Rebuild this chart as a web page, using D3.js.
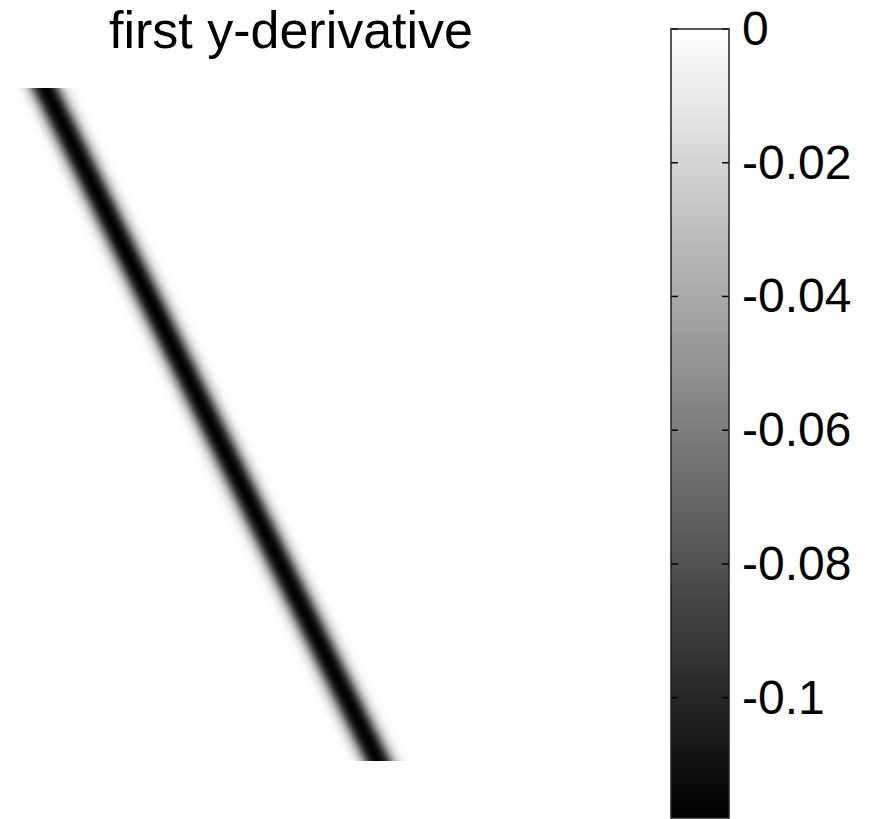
<!DOCTYPE html>
<html>
<head>
<meta charset="utf-8">
<script src="https://cdn.jsdelivr.net/npm/d3@7"></script>
<style>
  body { margin: 0; background: #fff; }
  text { font-family: "Liberation Sans", Arial, sans-serif; fill: #000; }
</style>
</head>
<body>
<div id="chart"></div>
<script>
// image size in source pixels (rows x cols)
var nRows = 673, nCols = 580;
// centre of the dark stripe, read at the top and bottom rows
var centreRows = [0, 673];
var centreCols = [45, 378];
// horizontal cross-section of the stripe (offset from centre -> value)
var profileOffsets = [-34, -28, -24, -20, -16, -12, -8, -4, 0, 4, 8, 12, 16, 20, 24, 28, 34];
var profileValues = [0, -0.002, -0.007, -0.018, -0.038, -0.068, -0.097, -0.113, -0.118, -0.113, -0.097, -0.068, -0.038, -0.018, -0.007, -0.002, 0];
// colour limits and colorbar ticks
var cMin = -0.118, cMax = 0;
var cbTicks = [0, -0.02, -0.04, -0.06, -0.08, -0.1];

var W = 870, H = 819;
var svg = d3.select("#chart").append("svg").attr("width", W).attr("height", H);

// image axes
var img = { x: 0, y: 88, w: 580, h: 673 };
var x = d3.scaleLinear().domain([0, nCols]).range([img.x, img.x + img.w]);
var y = d3.scaleLinear().domain([0, nRows]).range([img.y, img.y + img.h]);

var centre = d3.scaleLinear().domain(centreRows).range(centreCols);
var profile = d3.scaleLinear().domain(profileOffsets).range(profileValues).clamp(true);
var gray = d3.scaleLinear().domain([cMin, cMax]).range(["#000", "#fff"]).clamp(true);

// paint the image on a canvas, one pixel per cell
var canvas = document.createElement("canvas");
canvas.width = nCols; canvas.height = nRows;
var ctx = canvas.getContext("2d");
var data = ctx.createImageData(nCols, nRows);
for (var r = 0; r < nRows; r++) {
  var c0 = centre(r + 0.5);
  for (var c = 0; c < nCols; c++) {
    var col = d3.rgb(gray(profile(c + 0.5 - c0)));
    var k = (r * nCols + c) * 4;
    data.data[k] = col.r; data.data[k + 1] = col.g; data.data[k + 2] = col.b; data.data[k + 3] = 255;
  }
}
ctx.putImageData(data, 0, 0);

svg.append("image")
  .attr("x", x(0)).attr("y", y(0))
  .attr("width", x(nCols) - x(0)).attr("height", y(nRows) - y(0))
  .attr("preserveAspectRatio", "none")
  .attr("href", canvas.toDataURL());

svg.append("text")
  .attr("x", 291).attr("y", 48)
  .attr("text-anchor", "middle")
  .style("font-size", "52px")
  .text("first y-derivative");

// colorbar
var cb = { x: 671, y: 29, w: 58, h: 789 };
var cy = d3.scaleLinear().domain([cMin, cMax]).range([cb.y + cb.h, cb.y]);

var grad = svg.append("defs").append("linearGradient")
  .attr("id", "cbgrad").attr("x1", 0).attr("y1", 1).attr("x2", 0).attr("y2", 0);
grad.append("stop").attr("offset", "0%").attr("stop-color", gray(cMin));
grad.append("stop").attr("offset", "100%").attr("stop-color", gray(cMax));

svg.append("rect")
  .attr("x", cb.x).attr("y", cb.y).attr("width", cb.w).attr("height", cb.h)
  .attr("fill", "url(#cbgrad)");

// tick marks on both inner sides
var tk = svg.append("g");
cbTicks.forEach(function (t) {
  tk.append("line").attr("x1", cb.x).attr("x2", cb.x + 7)
    .attr("y1", cy(t)).attr("y2", cy(t)).attr("stroke", "#000").attr("stroke-width", 1.5);
  tk.append("line").attr("x1", cb.x + cb.w - 7).attr("x2", cb.x + cb.w)
    .attr("y1", cy(t)).attr("y2", cy(t)).attr("stroke", "#000").attr("stroke-width", 1.5);
});

svg.append("rect")
  .attr("x", cb.x).attr("y", cb.y).attr("width", cb.w).attr("height", cb.h)
  .attr("fill", "none").attr("stroke", "#222").attr("stroke-width", 1.5);

var axis = d3.axisRight(cy).tickValues(cbTicks).tickSize(0).tickPadding(13)
  .tickFormat(function (d) { return d === 0 ? "0" : String(d); });
var ag = svg.append("g").attr("transform", "translate(" + (cb.x + cb.w) + ",0)").call(axis);
ag.select(".domain").remove();
ag.selectAll("text").style("font-size", "48px")
  .style("font-family", "'Liberation Sans', Arial, sans-serif").attr("fill", "#000");
</script>
</body>
</html>
